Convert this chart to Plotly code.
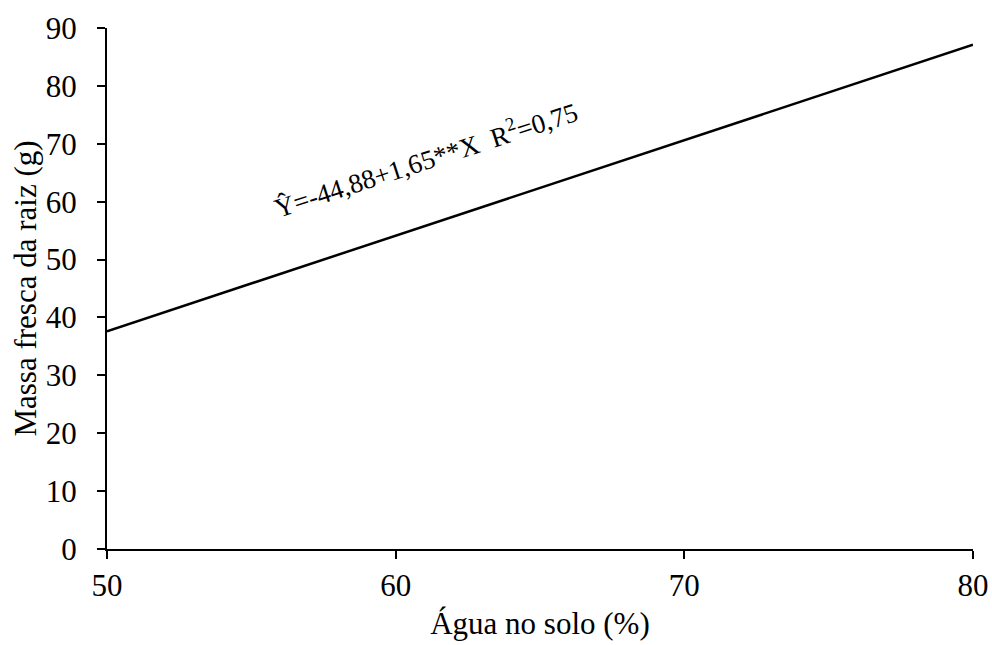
import plotly.graph_objects as go

x_vals = [50, 80]
intercept = -44.88
slope = 1.65
y_vals = [intercept + slope * x for x in x_vals]
x_ticks = [50, 60, 70, 80]
y_ticks = [0, 10, 20, 30, 40, 50, 60, 70, 80, 90]
equation_text = "Ŷ=-44,88+1,65**X  R<sup>2</sup>=0,75"

fig = go.Figure()
fig.add_trace(go.Scatter(x=x_vals, y=y_vals, mode="lines",
                         line=dict(color="black", width=2.5), showlegend=False,
                         hoverinfo="skip"))

fig.add_annotation(x=61.05, y=67.5, text=equation_text, showarrow=False,
                   textangle=-18, font=dict(family="Liberation Serif", size=27, color="black"))

font = dict(family="Liberation Serif", size=31, color="black")
fig.update_layout(
    width=992, height=645,
    margin=dict(l=107, r=19, t=28, b=96),
    plot_bgcolor="white", paper_bgcolor="white",
    font=font,
    xaxis=dict(range=[50, 80], tickvals=x_ticks, showgrid=False, zeroline=False,
               showline=True, linecolor="black", linewidth=2,
               ticks="outside", ticklen=8, tickwidth=2, tickcolor="black",
               tickfont=font, automargin=False, ticklabelstandoff=0,
               title=dict(text="Água no solo (%)", font=font, standoff=10)),
    yaxis=dict(range=[0, 90], tickvals=y_ticks, showgrid=False, zeroline=False,
               showline=True, linecolor="black", linewidth=2,
               ticks="outside", ticklen=8, tickwidth=2, tickcolor="black",
               tickfont=font, automargin=False, ticklabelstandoff=14,
               title=dict(text="Massa fresca da raiz (g)", font=font, standoff=0)),
)
fig.write_html("out.html", config={"displayModeBar": False},
               post_script="document.body.style.margin='0';")
